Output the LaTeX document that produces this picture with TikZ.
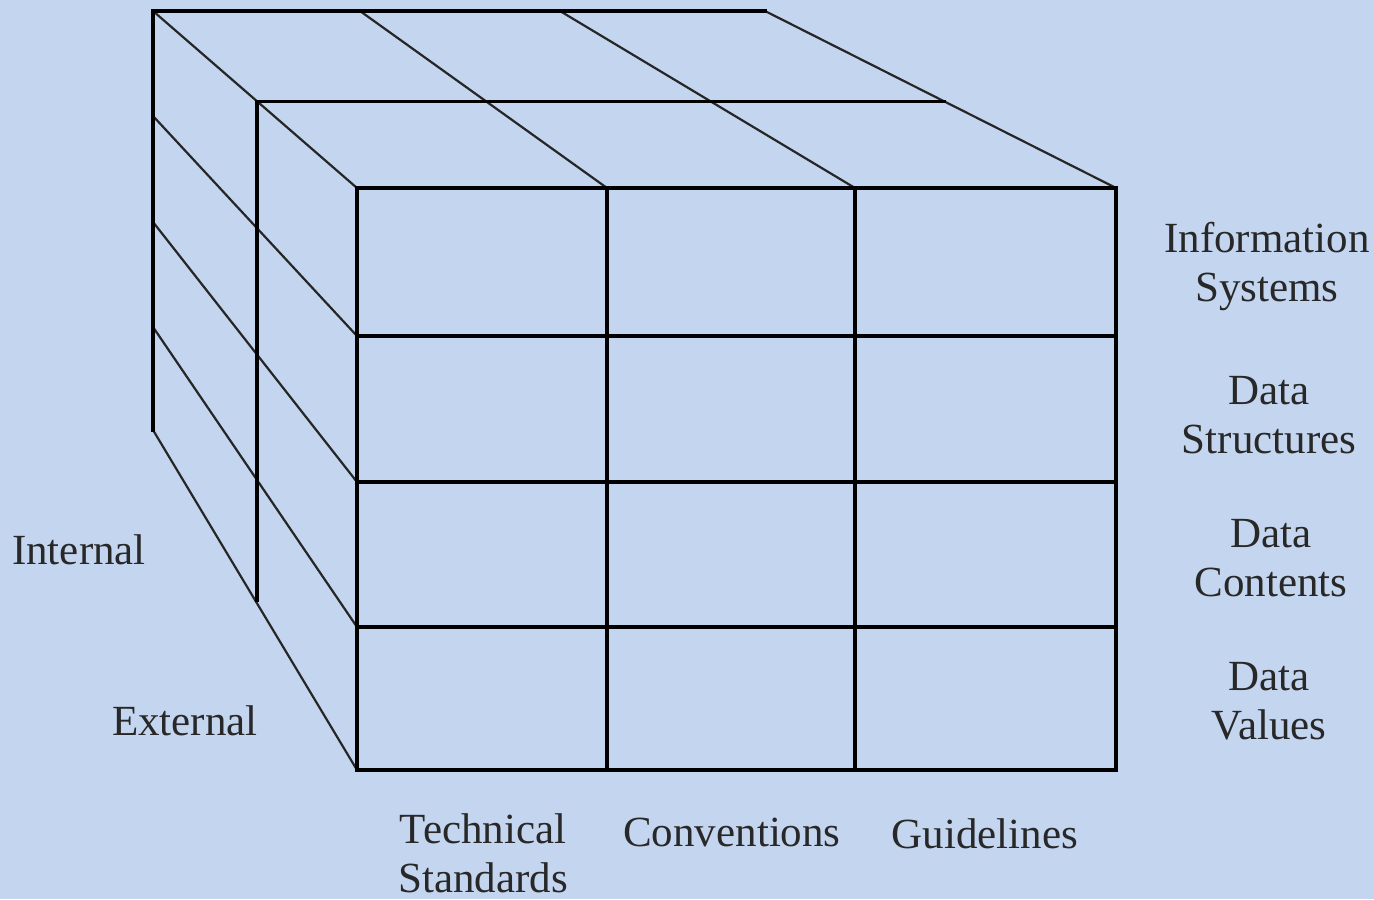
\documentclass[tikz,border=0pt]{standalone}
\usepackage{fontspec}
\setmainfont{Liberation Serif}
\usetikzlibrary{calc}
\definecolor{bg}{RGB}{196,213,239}
\definecolor{ink}{RGB}{40,40,40}
\begin{document}
\begin{tikzpicture}[x=0.5pt,y=-0.5pt,
  edge/.style={line width=1.6pt, black, line cap=rect},
  diag/.style={line width=1.1pt, black!85},
  lbl/.style={font=\fontsize{21.5}{24.5}\selectfont, align=center, text=ink, inner sep=0pt}]
\fill[bg] (0,0) rectangle (1374,899);
\useasboundingbox (0,0) rectangle (1374,899);
% front face grid points
\foreach \x [count=\i from 0] in {357,607,855,1116}
  \foreach \y [count=\j from 0] in {188,336,482,627,770}
    \coordinate (F\i\j) at (\x,\y);
% back layer points
\foreach \x [count=\i from 0] in {153,360,560,765}
  \coordinate (T\i) at (\x,11);
\foreach \y [count=\j from 0] in {11,116,222,327,430}
  \coordinate (L\j) at (153,\y);
% middle layer
\coordinate (M0) at ($(T0)!0.51!(F00)$);
\coordinate (MR) at ($(T3)!0.51!(F30)$);
\coordinate (MBt) at ($(L4)!0.5!(F04)$);
\coordinate (MB) at (M0 |- MBt);
% receding edges
\foreach \i in {0,...,3} \draw[diag] (T\i) -- (F\i0);
\foreach \j in {1,...,4} \draw[diag] (L\j) -- (F0\j);
% back layer
\draw[edge] (L4) -- (L0) -- (T3);
% middle layer
\draw[edge] (MB) -- (M0) -- (MR);
% front face
\foreach \i in {0,...,3} \draw[edge] (F\i0) -- (F\i4);
\foreach \j in {0,...,4} \draw[edge] (F0\j) -- (F3\j);
% labels
\node[lbl] (is) at (1267,266) {Information\\Systems};
\node[lbl] (ds) at (1269,415) {Data\\Structures};
\node[lbl] (dc) at (1271,558) {Data\\Contents};
\node[lbl] (dv) at (1269,701) {Data\\Values};
\node[lbl] (ts) at (483,853) {Technical\\Standards};
\node[lbl] (cv) at (732,832) {Conventions};
\node[lbl] (gl) at (985,834) {Guidelines};
\node[lbl] (in) at (79,550) {Internal};
\node[lbl] (ex) at (185,721) {External};
\end{tikzpicture}
\end{document}
